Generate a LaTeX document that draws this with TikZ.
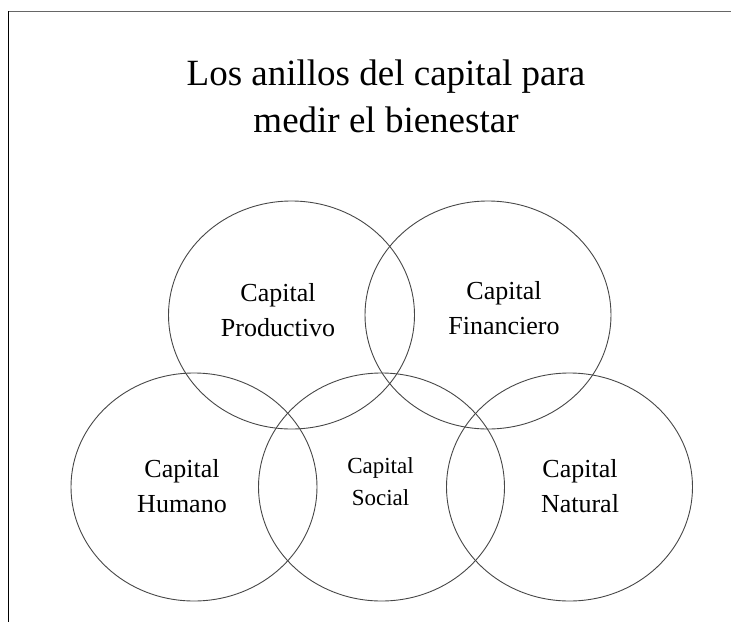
\documentclass[tikz,border=0pt]{standalone}
\usepackage{fontspec}
\setmainfont{Liberation Serif}
\usetikzlibrary{shapes.geometric}
\begin{document}
\begin{tikzpicture}[x=1pt,y=-1pt,
  ring/.style={draw=black!72, line width=0.9pt, ellipse, minimum width=246pt, minimum height=228pt, inner sep=0pt},
  lab/.style={font=\fontsize{26}{34.5}\selectfont, align=center, anchor=base},
  smalllab/.style={font=\fontsize{23}{32}\selectfont, align=center, anchor=base},
  ttl/.style={font=\fontsize{37}{48}\selectfont, anchor=base}]
\useasboundingbox (0,0) rectangle (731,622);
% frame
\coordinate (ftl) at (8.5,11);
\coordinate (ftr) at (731,11);
\coordinate (fbl) at (8.5,622);
\draw[draw=black!60, line width=1pt] (ftl) -- (ftr);
\draw[draw=black, line width=1pt] (ftl) -- (fbl);
% title
\node[ttl] (t1) at (386,85) {Los anillos del capital para};
\node[ttl] (t2) at (386,132) {medir el bienestar};
% rings
\node[ring] (P) at (291.5,315) {};
\node[ring] (F) at (488,315) {};
\node[ring] (H) at (194,487) {};
\node[ring] (S) at (381.5,487) {};
\node[ring] (N) at (569.5,487) {};
% labels (base anchor = last line's baseline)
\node[lab] (lP) at (278,336) {Capital\\Productivo};
\node[lab] (lF) at (504,334) {Capital\\Financiero};
\node[lab] (lH) at (182,512) {Capital\\Humano};
\node[smalllab] (lS) at (380.5,505) {Capital\\Social};
\node[lab] (lN) at (580,512) {Capital\\Natural};
\end{tikzpicture}
\end{document}
